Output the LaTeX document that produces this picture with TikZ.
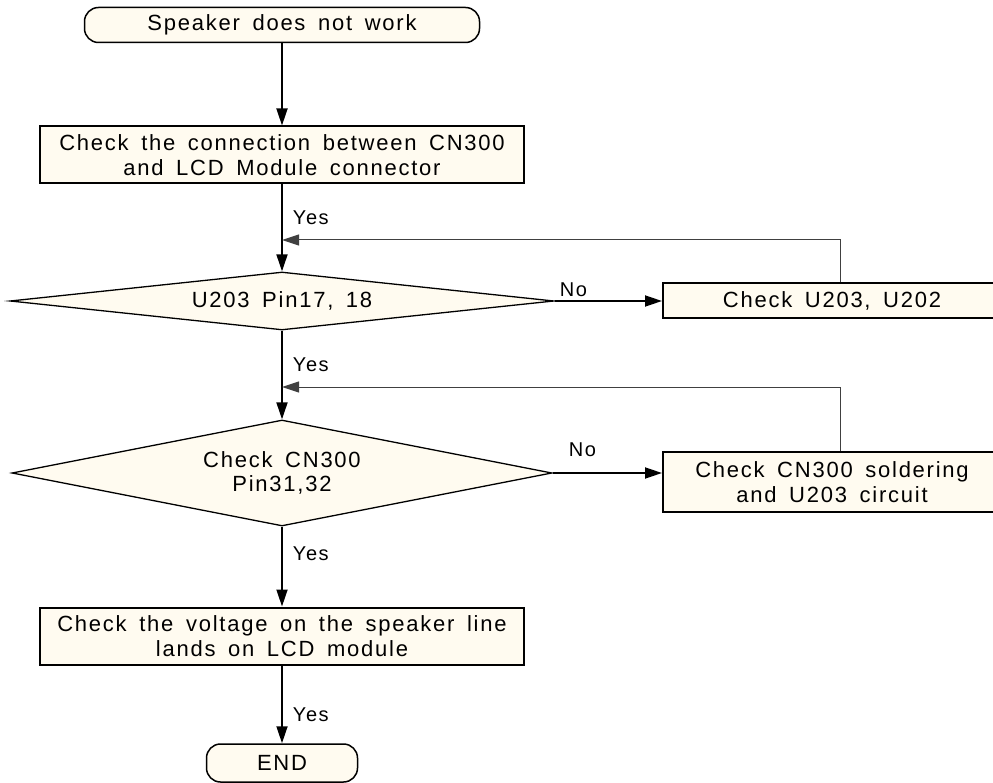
\documentclass[tikz,border=0pt]{standalone}
\usepackage{fontspec}
\setmainfont{Liberation Sans}[LetterSpace=8,WordSpace=1.6]
\usepackage{tikz}
\usetikzlibrary{shapes.geometric, arrows.meta}
\definecolor{cream}{RGB}{255,251,240}

\begin{document}
\begin{tikzpicture}[x=1pt, y=-1pt, >={Triangle[length=17pt, width=11pt]},
    box/.style={draw, line width=2pt, fill=cream, inner sep=0pt, align=center, font=\fontsize{22}{24.5}\selectfont},
    term/.style={box, line width=1.5pt, rounded corners=14pt},
    test/.style={box, shape=diamond, line width=1.3pt},
    flow/.style={->, line width=1.8pt},
    back/.style={->, line width=1pt, draw=black!75},
    tag/.style={anchor=base west, inner sep=0pt, font=\fontsize{20}{20}\selectfont}]
    \useasboundingbox (0,0) rectangle (993,783);
    \node [term, minimum width=395pt, minimum height=35pt] (start) at (282,25) {Speaker does not work};
    \node [box, minimum width=484pt, minimum height=57pt] (chkconn) at (282,155) {Check the connection between CN300\\and LCD Module connector};
    \node [test, aspect=9.4, minimum width=544pt, minimum height=58pt] (pin17) at (282,301) {U203 Pin17, 18};
    \node [box, minimum width=338pt, minimum height=35pt] (chku) at (832,301) {Check U203, U202};
    \node [test, aspect=5.1, minimum width=540pt, minimum height=106pt] (cn300) at (282,473) {Check CN300\\Pin31,32};
    \node [box, minimum width=338pt, minimum height=60pt] (chksold) at (832,482) {Check CN300 soldering\\and U203 circuit};
    \node [box, minimum width=484pt, minimum height=57pt] (voltage) at (282,636) {Check the voltage on the speaker line\\lands on LCD module};
    \node [term, minimum width=151pt, minimum height=38pt] (end) at (282,763) {END};
    \coordinate (loop1) at (282,240);
    \coordinate (loop2) at (282,387);
    \draw [flow] (start) -- (chkconn);
    \draw [flow] (chkconn) -- (pin17) node [tag] (yes1) at (292,225) {Yes};
    \draw [flow] (pin17.east) -- (pin17.east -| chku.west) node [tag] (no1) at (559,297) {No};
    \draw [back] ([xshift=8pt]chku.north) |- (loop1);
    \draw [flow] (pin17) -- (cn300) node [tag] (yes2) at (292,372) {Yes};
    \draw [flow] (cn300.east) -- (cn300.east -| chksold.west) node [tag] (no2) at (568,456) {No};
    \draw [back] ([xshift=8pt]chksold.north) |- (loop2);
    \draw [flow] (cn300) -- (voltage) node [tag] (yes3) at (292,560) {Yes};
    \draw [flow] (voltage) -- (end) node [tag] (yes4) at (292,721) {Yes};
  \end{tikzpicture}
\end{document}
